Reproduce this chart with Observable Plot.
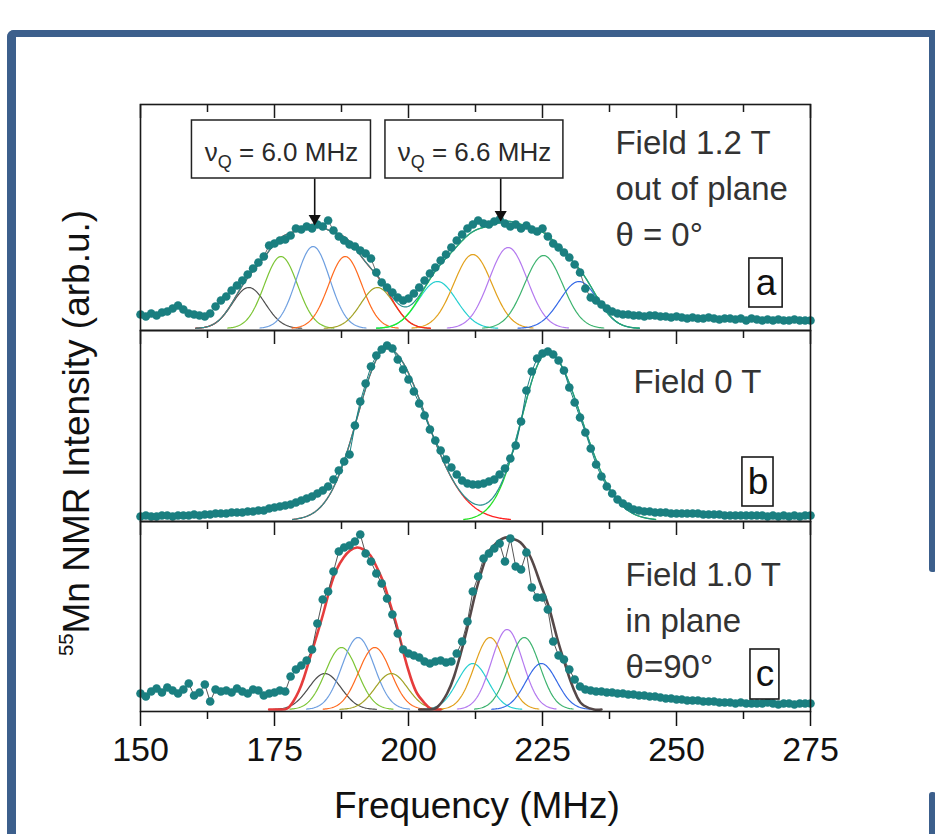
<!DOCTYPE html>
<html>
<head>
<meta charset="utf-8">
<script src="https://cdn.jsdelivr.net/npm/d3@7"></script>
<script src="https://cdn.jsdelivr.net/npm/@observablehq/plot@0.6"></script>
<style>
  html, body { margin: 0; padding: 0; background: #ffffff; }
  #root { position: relative; width: 935px; height: 834px; overflow: hidden; font-family: "Liberation Sans", Arial, sans-serif; background: #fff; }
  .frame-main { position: absolute; left: 7px; top: 30px; width: 935px; height: 830px; box-sizing: border-box;
    border-left: 9px solid #3c5f8c; border-top: 7px solid #3c5f8c; border-top-left-radius: 7px; }
  .frame-r1 { position: absolute; left: 929px; top: 30px; width: 7px; height: 542px; background: #3c5f8c; border-radius: 0 0 3px 3px; }
  .frame-r2 { position: absolute; left: 929px; top: 792px; width: 7px; height: 50px; background: #3c5f8c; border-radius: 3px 3px 0 0; }
  #ylab { position: absolute; left: 77px; top: 433px; transform: translate(-50%, -50%) rotate(-90deg);
    white-space: nowrap; font-size: 37px; line-height: 1.15; color: #111; }
  #ylab sup { font-size: 0.55em; vertical-align: 0.75em; line-height: 0; }
  #xlab { position: absolute; left: 477px; top: 787px; transform: translateX(-50%); white-space: nowrap;
    font-size: 37px; line-height: 1; color: #111; }
</style>
</head>
<body>
<div id="root">
  <div class="frame-main"></div>
  <div class="frame-r1"></div>
  <div class="frame-r2"></div>
  <div id="ylab"><sup>55</sup>Mn NMR Intensity (arb.u.)</div>
  <div id="xlab">Frequency (MHz)</div>
</div>
<script>
// ---------------- data ----------------
// frequency grid of the measured spectra (MHz)
const freqGrid = d3.range(150, 276);

// measured intensities, arbitrary units
const intensityA = [
  16,14,17,15,18,19,22,25,21,17,
  16,15,14,17,24,30,34,40,45,50,
  56,62,68,74,85,87,90,91,95,102,
  101,104,102,106,104,110,100,94,90,86,
  84,80,77,72,58,48,43,38,33,30,
  32,37,43,50,57,63,70,76,83,90,
  96,102,106,110,107,106,109,111,107,104,
  106,102,105,101,99,102,94,87,83,78,
  73,66,58,42,33,30,26,22,19,17,
  16,16,15,15,14,15,15,14,14,13,
  14,13,12,13,12,12,13,12,11,12,
  12,11,12,10,12,11,10,11,10,11,
  10,10,11,10,10,10
];
const intensityB = [
  5,6,5,5,6,6,5,6,6,6,
  7,6,7,7,8,8,8,9,9,9,
  10,10,11,11,13,14,15,16,17,19,
  21,23,25,28,31,35,42,51,60,67,
  96,120,138,155,166,172,176,173,162,152,
  142,130,118,106,92,81,71,62,54,47,
  41,38,37,37,38,40,42,47,53,63,
  76,100,131,150,163,168,170,167,161,151,
  134,119,104,89,73,57,45,35,28,22,
  18,15,12,11,10,10,9,9,9,8,
  8,8,8,8,8,7,7,7,7,6,
  6,6,6,6,6,6,6,5,6,5,
  6,5,6,5,6,6
];
const intensityC = [
  18,15,20,23,19,24,21,18,22,28,
  16,19,27,10,22,20,21,19,23,20,
  18,22,21,16,18,19,21,20,35,42,
  46,51,62,88,112,120,140,160,164,166,
  170,177,158,150,138,128,113,97,78,62,
  58,56,54,50,48,50,51,49,50,58,
  70,90,120,135,153,158,163,168,150,173,
  145,142,159,124,114,114,102,70,56,52,
  42,32,25,22,21,20,20,19,19,18,
  18,17,17,16,16,15,15,14,13,13,
  12,12,11,11,11,10,10,10,9,9,
  9,8,9,8,8,8,8,9,8,7,
  8,8,7,8,8,8
];

// Gaussian fit components: centre (MHz), height, width (MHz)
const compColors   = ["#4d4d4d","#7cc535","#6e9fe0","#ff6a1e","#a2a226","#25cfd0","#e2a11c","#b479ef","#3db36f","#3468e6"];
const compCentersA = [170.2,176.2,182.2,188.2,194.2,205.4,212.0,218.6,225.2,231.8];
const compHeightsA = [41,72,82,72,41,47,74,81,73,47];
const compWidthsA  = [3.1,3.1,3.1,3.1,3.1,3.55,3.55,3.55,3.55,3.55];
const compCentersC = [184.4,187.5,190.6,193.7,196.8,212.0,215.2,218.4,221.6,224.8];
const compHeightsC = [36,62,72,62,36,46,72,80,72,46];
const compWidthsC  = [3.0,3.0,3.0,3.0,3.0,2.9,2.9,2.9,2.9,2.9];

// panel b: two asymmetric fit peaks (centre, height, left / right width)
const fitCentersB = [196, 226];
const fitHeightsB = [172, 168];
const fitWidthLB  = [5.5, 4.9];
const fitWidthRB  = [7.2, 6.3];
const fitColorsB  = ["#ff2222", "#22e022"];

// panel c: envelope fits of the two lines
const envC1Freq = [174,176,177.4,178.5,179.5,180.5,181.7,183,184.2,185.4,186.6,187.9,189.1,190.4,191.6,192.9,194.1,195.4,196.6,197.9,199.1,200.4,201.6,202.9,204.1,206];
const envC1Val  = [2,2,3,10,20,34,55,78,100,124,142,154,161,164,162,156,144,128,107,84,58,34,18,9,3,2];
const envC2Freq = [202,204,205.5,207.2,208.5,209.7,210.9,212.2,213.4,214.7,215.6,216.5,217.6,218.7,219.8,220.9,222.8,224.6,226.2,227.7,229,230.2,231.5,232.7,234.6,236];
const envC2Val  = [2,2,5,18,35,57,82,112,136,157,164,169,173,174,172,169,154,128,104,74,51,31,14,6,2,2];

// axis ticks
const majorTicks = [150,175,200,225,250,275];
const minorTicks = [162.5,187.5,212.5,237.5,262.5];

// annotations (positions in data units)
const notesA = [{f: 238.6, v: 85, t: "Field 1.2 T\nout of plane\nθ = 0°"}];
const notesB = [{f: 242.0, v: 129, t: "Field 0 T"}];
const notesC = [{f: 240.5, v: 34, t: "Field 1.0 T\nin plane\nθ=90°"}];
const letterBoxA = [{x1: 263.6, x2: 269.8, y1: 23, y2: 72, t: "a"}];
const letterBoxB = [{x1: 262.3, x2: 268.1, y1: 15, y2: 64, t: "b"}];
const letterBoxC = [{x1: 263.8, x2: 269.2, y1: 12, y2: 62, t: "c"}];
const quadBoxes  = [
  {x1: 159.6, x2: 193.0, y1: 152, y2: 210, t: "νQ = 6.0 MHz"},
  {x1: 195.7, x2: 228.9, y1: 152, y2: 210, t: "νQ = 6.6 MHz"}
];
const quadArrows = [{f: 182.5, from: 152, to: 108}, {f: 217.2, from: 152, to: 112}];

// ---------------- helpers ----------------
const teal = "#1a7f80";
const W = 935;

function spectrumRows(values) { return freqGrid.map((f, i) => ({f, v: values[i]})); }
function gaussVal(c, h, sl, sr, f) { const s = f < c ? sl : sr; return h * Math.exp(-((f - c) ** 2) / (2 * s * s)); }
function compRows(centers, heights, wl, wr, colors, base, span) {
  return centers.flatMap((c, i) =>
    d3.range(c - span * wl[i], c + span * wr[i] + 1e-6, 0.2)
      .map(f => ({id: i, f, v: base + gaussVal(c, heights[i], wl[i], wr[i], f), color: colors[i]})));
}
function sumRows(centers, heights, wl, wr, base, idx, span) {
  const lo = d3.min(idx, i => centers[i] - span * wl[i]);
  const hi = d3.max(idx, i => centers[i] + span * wr[i]);
  return d3.range(lo, hi + 1e-6, 0.2)
    .map(f => ({f, v: base + d3.sum(idx, i => gaussVal(centers[i], heights[i], wl[i], wr[i], f))}));
}
function textMarks(notes, letterBox) {
  return [
    Plot.text(notes, {x: "f", y: "v", text: "t", textAnchor: "start", lineAnchor: "bottom", lineHeight: 1.38,
      fontSize: 33, fill: "#333"}),
    Plot.rect(letterBox, {x1: "x1", x2: "x2", y1: "y1", y2: "y2", fill: "white", stroke: "#1a1a1a", strokeWidth: 1.6}),
    Plot.text(letterBox, {x: d => (d.x1 + d.x2) / 2, y: d => (d.y1 + d.y2) / 2, text: "t", lineAnchor: "middle",
      fontSize: 37, fill: "#111"})
  ];
}
function tickMarks(H) {
  return [
    Plot.tickX(majorTicks, {x: d => d, insetBottom: H - 14, stroke: "#1a1a1a", strokeWidth: 1.5}),
    Plot.tickX(minorTicks, {x: d => d, insetBottom: H - 8, stroke: "#1a1a1a", strokeWidth: 1.5}),
    Plot.frame({stroke: "#1a1a1a", strokeWidth: 1.6})
  ];
}
function makePlot(H, top, marks, bottom) {
  const mb = bottom ? 70 : 0;
  const svg = Plot.plot({
    width: W, height: H + mb,
    marginLeft: 140, marginRight: 125, marginTop: 0, marginBottom: mb,
    x: {domain: [150, 275], axis: null},
    y: {domain: [0, H], axis: null},
    style: {background: "transparent", overflow: "visible", fontFamily: "'Liberation Sans', Arial, sans-serif",
      fontSize: "34px", color: "#111"},
    marks
  });
  svg.style.position = "absolute";
  svg.style.left = "0px";
  svg.style.top = top + "px";
  svg.style.maxWidth = "none";
  svg.style.overflow = "visible";
  document.getElementById("root").appendChild(svg);
  return svg;
}

// ---------------- panel a ----------------
const HA = 226, HB = 191, HC = 190;
const allIdx = d3.range(10), g1 = [0,1,2,3,4], g2 = [5,6,7,8,9];
const dataA = spectrumRows(intensityA);
const svgA = makePlot(HA, 104, [
  Plot.line(compRows(compCentersA, compHeightsA, compWidthsA, compWidthsA, compColors, 2, 3.2),
    {x: "f", y: "v", z: "id", stroke: "color", strokeWidth: 1.2}),
  Plot.line(sumRows(compCentersA, compHeightsA, compWidthsA, compWidthsA, 2, g1, 3.2), {x: "f", y: "v", stroke: "#ff2020", strokeWidth: 1.3}),
  Plot.line(sumRows(compCentersA, compHeightsA, compWidthsA, compWidthsA, 2, g2, 3.2), {x: "f", y: "v", stroke: "#22ee22", strokeWidth: 1.3}),
  Plot.line(sumRows(compCentersA, compHeightsA, compWidthsA, compWidthsA, 2, allIdx, 3.2), {x: "f", y: "v", stroke: "#2a9090", strokeWidth: 1.2}),
  Plot.line(dataA, {x: "f", y: "v", stroke: "#6a6a6a", strokeWidth: 1}),
  Plot.dot(dataA, {x: "f", y: "v", r: 4.3, fill: teal}),
  Plot.link(quadArrows, {x1: "f", x2: "f", y1: "from", y2: "to", stroke: "#111", strokeWidth: 1.6}),
  Plot.dot(quadArrows, {x: "f", y: "to", symbol: "triangle", rotate: 180, r: 4.5, fill: "#111", dy: -4}),
  Plot.rect(quadBoxes, {x1: "x1", x2: "x2", y1: "y1", y2: "y2", fill: "white", stroke: "#222", strokeWidth: 1.5}),
  Plot.text(quadBoxes, {x: d => (d.x1 + d.x2) / 2, y: 170, text: "t", lineAnchor: "bottom", fontSize: 26, fill: "#2a2a2a"}),
  ...textMarks(notesA, letterBoxA),
  ...tickMarks(HA)
]);
// subscript Q in the νQ labels
d3.select(svgA).selectAll("text").each(function () {
  const s = this.textContent;
  if (s.startsWith("νQ")) {
    const rest = s.slice(2);
    const sel = d3.select(this);
    sel.text(null);
    sel.append("tspan").text("ν");
    sel.append("tspan").attr("font-size", "18px").attr("dy", "7").text("Q");
    sel.append("tspan").attr("dy", "-7").text(rest);
  }
});

// ---------------- panel b ----------------
const dataB = spectrumRows(intensityB);
makePlot(HB, 330, [
  Plot.line(compRows(fitCentersB, fitHeightsB, fitWidthLB, fitWidthRB, fitColorsB, 1, 3.2),
    {x: "f", y: "v", z: "id", stroke: "color", strokeWidth: 1.3}),
  Plot.line(sumRows(fitCentersB, fitHeightsB, fitWidthLB, fitWidthRB, 1, [0, 1], 3.2), {x: "f", y: "v", stroke: "#2a9090", strokeWidth: 1.3}),
  Plot.line(dataB, {x: "f", y: "v", stroke: teal, strokeWidth: 1}),
  Plot.dot(dataB, {x: "f", y: "v", r: 4.3, fill: teal}),
  ...textMarks(notesB, letterBoxB),
  ...tickMarks(HB)
]);

// ---------------- panel c ----------------
const dataC = spectrumRows(intensityC);
const envC1 = envC1Freq.map((f, i) => ({f, v: envC1Val[i]}));
const envC2 = envC2Freq.map((f, i) => ({f, v: envC2Val[i]}));
makePlot(HC, 521, [
  Plot.line(compRows(compCentersC, compHeightsC, compWidthsC, compWidthsC, compColors, 2, 3.2),
    {x: "f", y: "v", z: "id", stroke: "color", strokeWidth: 1.2}),
  Plot.line(envC1, {x: "f", y: "v", stroke: "#e63c3c", strokeWidth: 2.6, curve: "natural"}),
  Plot.line(envC2, {x: "f", y: "v", stroke: "#554848", strokeWidth: 2.6, curve: "natural"}),
  Plot.line(dataC, {x: "f", y: "v", stroke: "#555", strokeWidth: 1}),
  Plot.dot(dataC, {x: "f", y: "v", r: 4.3, fill: teal}),
  ...textMarks(notesC, letterBoxC),
  ...tickMarks(HC),
  Plot.axisX(majorTicks, {anchor: "bottom", tickSize: 15, tickPadding: 10, label: null, fontSize: 34,
    strokeWidth: 1.5, tickFormat: d => String(d), fill: "#111"}),
  Plot.axisX(minorTicks, {anchor: "bottom", tickSize: 8, label: null, strokeWidth: 1.5, tickFormat: () => ""})
], true);
</script>
</body>
</html>
